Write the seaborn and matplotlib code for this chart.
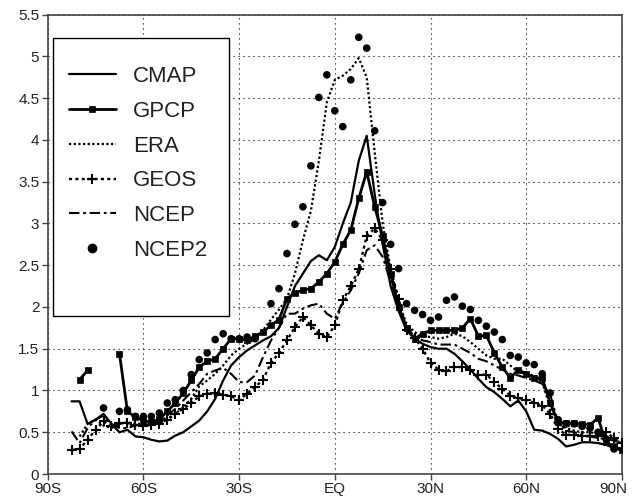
"""
Zonal mean precipitation by latitude for six datasets, redrawn with seaborn.
"""

import pandas as pd
import seaborn as sns
import matplotlib.pyplot as plt
import matplotlib.transforms as mtransforms
from matplotlib.lines import Line2D
from matplotlib.patches import Rectangle

# latitude grid (degrees, negative = south)
lat = [-82.5, -80, -77.5, -75, -72.5, -70, -67.5, -65, -62.5, -60,
       -57.5, -55, -52.5, -50, -47.5, -45, -42.5, -40, -37.5, -35,
       -32.5, -30, -27.5, -25, -22.5, -20, -17.5, -15, -12.5, -10,
       -7.5, -5, -2.5, 0, 2.5, 5, 7.5, 10, 12.5, 15,
       17.5, 20, 22.5, 25, 27.5, 30, 32.5, 35, 37.5, 40,
       42.5, 45, 47.5, 50, 52.5, 55, 57.5, 60, 62.5, 65,
       67.5, 70, 72.5, 75, 77.5, 80, 82.5, 85, 87.5, 90]

nan = float('nan')

cmap = [0.87, 0.87, 0.60, 0.65, 0.72, 0.60, 0.50, 0.53, 0.45, 0.44,
        0.41, 0.39, 0.40, 0.46, 0.50, 0.57, 0.64, 0.75, 0.90, 1.12,
        1.30, 1.40, 1.48, 1.54, 1.60, 1.65, 1.75, 2.00, 2.25, 2.40,
        2.55, 2.62, 2.56, 2.72, 3.00, 3.25, 3.75, 4.05, 3.35, 2.75,
        2.25, 1.95, 1.72, 1.62, 1.56, 1.52, 1.50, 1.50, 1.44, 1.35,
        1.25, 1.14, 1.04, 0.98, 0.90, 0.81, 0.88, 0.75, 0.53, 0.52,
        0.48, 0.42, 0.33, 0.35, 0.38, 0.38, 0.37, 0.35, 0.31, 0.28]

gpcp = [nan, 1.13, 1.24, nan, nan, nan, 1.44, 0.75, 0.68, 0.64,
        0.62, 0.66, 0.75, 0.85, 0.97, 1.12, 1.28, 1.35, 1.38, 1.50,
        1.62, 1.62, 1.60, 1.65, 1.70, 1.78, 1.85, 2.10, 2.17, 2.20,
        2.22, 2.30, 2.40, 2.54, 2.75, 2.92, 3.30, 3.62, 3.20, 2.85,
        2.40, 2.00, 1.75, 1.62, 1.68, 1.72, 1.72, 1.72, 1.72, 1.75,
        1.86, 1.65, 1.66, 1.45, 1.28, 1.15, 1.25, 1.20, 1.15, 1.15,
        0.85, 0.62, 0.61, 0.61, 0.60, 0.59, 0.67, 0.38, 0.33, 0.29]

era = [nan, 0.45, 0.60, 0.65, 0.58, 0.55, 0.60, 0.62, 0.60, 0.60,
       0.60, 0.62, 0.66, 0.72, 0.80, 0.90, 1.05, 1.12, 1.20, 1.30,
       1.42, 1.50, 1.56, 1.62, 1.72, 1.85, 1.97, 2.10, 2.40, 2.80,
       3.15, 3.75, 4.45, 4.72, 4.77, 4.85, 4.98, 4.75, 3.85, 3.00,
       2.45, 2.05, 1.80, 1.70, 1.65, 1.64, 1.62, 1.64, 1.68, 1.65,
       1.58, 1.50, 1.42, 1.38, 1.38, 1.30, 1.22, 1.20, 1.18, 1.10,
       0.80, 0.60, 0.55, 0.52, 0.50, 0.50, 0.48, 0.45, 0.40, 0.38]

geos = [0.29, 0.30, 0.41, 0.53, 0.63, 0.57, 0.61, 0.61, 0.59, 0.57,
        0.59, 0.60, 0.65, 0.72, 0.78, 0.85, 0.93, 0.96, 0.97, 0.95,
        0.93, 0.89, 0.96, 1.04, 1.13, 1.33, 1.45, 1.60, 1.76, 1.88,
        1.78, 1.68, 1.64, 1.78, 2.08, 2.25, 2.45, 2.85, 2.94, 2.80,
        2.45, 2.10, 1.72, 1.63, 1.50, 1.33, 1.25, 1.23, 1.28, 1.28,
        1.25, 1.19, 1.19, 1.10, 1.02, 0.94, 0.91, 0.89, 0.85, 0.82,
        0.72, 0.54, 0.47, 0.47, 0.46, 0.45, 0.45, 0.50, 0.43, 0.37]

ncep = [0.51, 0.37, 0.55, 0.65, 0.70, 0.60, 0.55, 0.55, 0.58, 0.60,
        0.60, 0.62, 0.70, 0.78, 0.88, 0.98, 1.08, 1.20, 1.24, 1.27,
        1.20, 1.10, 1.10, 1.18, 1.40, 1.60, 1.75, 1.92, 1.92, 1.98,
        2.02, 2.04, 1.92, 1.86, 2.05, 2.20, 2.40, 2.68, 2.74, 2.60,
        2.30, 2.00, 1.75, 1.65, 1.60, 1.58, 1.55, 1.55, 1.55, 1.50,
        1.45, 1.38, 1.35, 1.30, 1.25, 1.20, 1.18, 1.15, 1.12, 1.08,
        0.95, 0.62, 0.52, 0.50, 0.48, 0.45, 0.43, 0.42, 0.40, 0.37]

# NCEP2 is shown only as dots, where they are visible
ncep2_lat = [-72.5, -67.5, -65, -62.5, -60, -57.5, -55, -52.5, -50, -47.5,
             -45, -42.5, -40, -37.5, -35, -32.5, -30, -27.5, -25, -20,
             -17.5, -15, -12.5, -10, -7.5, -5, -2.5, 0, 2.5, 5,
             7.5, 10, 12.5, 15, 17.5, 20, 22.5, 25, 27.5, 30,
             32.5, 35, 37.5, 40, 42.5, 45, 47.5, 50, 52.5, 55,
             57.5, 60, 62.5, 65, 67.5, 70, 72.5, 75, 77.5, 80,
             82.5, 85, 87.5]
ncep2 = [0.79, 0.75, 0.77, 0.69, 0.69, 0.69, 0.73, 0.85, 0.89, 1.00,
         1.19, 1.37, 1.45, 1.61, 1.68, 1.62, 1.62, 1.64, 1.62, 2.04,
         2.22, 2.64, 2.99, 3.20, 3.69, 4.51, 4.78, 4.35, 4.16, 4.72,
         5.23, 5.10, 4.11, 3.25, 2.75, 2.46, 2.04, 1.96, 1.91, 1.84,
         1.88, 2.08, 2.12, 2.01, 1.97, 1.84, 1.77, 1.70, 1.61, 1.42,
         1.40, 1.33, 1.31, 1.20, 0.97, 0.65, 0.60, 0.60, 0.57, 0.55,
         0.50, 0.42, 0.30]

names = ['CMAP', 'GPCP', 'ERA', 'GEOS', 'NCEP', 'NCEP2']
x_ticks = [-90, -60, -30, 0, 30, 60, 90]
x_labels = ['90S', '60S', '30S', 'EQ', '30N', '60N', '90N']
y_ticks = [0, 0.5, 1, 1.5, 2, 2.5, 3, 3.5, 4, 4.5, 5, 5.5]
y_labels = ['0', '0.5', '1', '1.5', '2', '2.5', '3', '3.5', '4', '4.5',
            '5', '5.5']

styles = {
    'CMAP': dict(linestyle='-', linewidth=1.6),
    'GPCP': dict(linestyle='-', linewidth=2.0, marker='s', markersize=4.5,
                 markeredgecolor='black', markeredgewidth=0.5),
    'ERA': dict(linestyle=(0, (1, 1.1)), linewidth=1.6),
    'GEOS': dict(linestyle=(0, (1.3, 1.4)), linewidth=1.7, marker='+',
                 markersize=7, markeredgecolor='black',
                 markeredgewidth=1.5),
    'NCEP': dict(linestyle=(0, (5, 1.8, 1.3, 1.8)), linewidth=1.5),
}

sns.set_style('ticks')
plt.rcParams['font.family'] = ['Liberation Sans', 'DejaVu Sans']
TEXT = '#222222'

fig = plt.figure(figsize=(6.34, 4.99), dpi=100)
ax = fig.add_axes([0.0752, 0.0501, 0.9058, 0.9204])

series = {'CMAP': cmap, 'GPCP': gpcp, 'ERA': era, 'GEOS': geos,
          'NCEP': ncep}
for name, vals in series.items():
    df = pd.DataFrame({'lat': lat, 'val': vals})
    # split at missing values so gaps stay open
    df['seg'] = df['val'].isna().cumsum()
    df = df.dropna()
    sns.lineplot(data=df, x='lat', y='val', units='seg', estimator=None,
                 sort=False, color='black', legend=False, ax=ax,
                 zorder=3, **styles[name])

sns.scatterplot(x=ncep2_lat, y=ncep2, color='black', s=30,
                edgecolor='none', legend=False, ax=ax, zorder=3)

ax.set_xlim(-90, 90)
ax.set_ylim(0, 5.5)
ax.set_xticks(x_ticks)
ax.set_xticklabels(x_labels)
ax.set_yticks(y_ticks)
ax.set_yticklabels(y_labels)
ax.set_xlabel('')
ax.set_ylabel('')
ax.tick_params(direction='out', length=4, width=1, color='#444444',
               labelsize=11, labelcolor=TEXT, pad=2)
ax.grid(True, linestyle=(0, (1, 3.5)), color='black', linewidth=0.8)
for side in ['left', 'right', 'top', 'bottom']:
    ax.spines[side].set_visible(True)
    ax.spines[side].set_color('#444444')
    ax.spines[side].set_linewidth(1.2)

# keep the last tick label inside the figure
last = ax.get_xticklabels()[-1]
last.set_transform(last.get_transform() + mtransforms.ScaledTranslation(
    -6 / 72, 0, fig.dpi_scale_trans))

# legend box drawn by hand so its padding matches
ax.add_patch(Rectangle((0.009, 0.344), 0.307, 0.605, transform=ax.transAxes,
                       facecolor='white', edgecolor='black', linewidth=1,
                       zorder=5))
handles = [Line2D([], [], color='black', **styles[n]) for n in names[:5]]
handles.append(Line2D([], [], linestyle='none', marker='o', markersize=6,
                      color='black'))
leg = ax.legend(handles, names, loc='upper left',
                bbox_to_anchor=(0.037, 0.888), borderaxespad=0,
                borderpad=0, frameon=False, handlelength=2.1,
                handletextpad=0.8, labelspacing=0.62, fontsize=16)
for t in leg.get_texts():
    t.set_color(TEXT)
leg.set_zorder(6)

plt.savefig('out.png', dpi=100)
